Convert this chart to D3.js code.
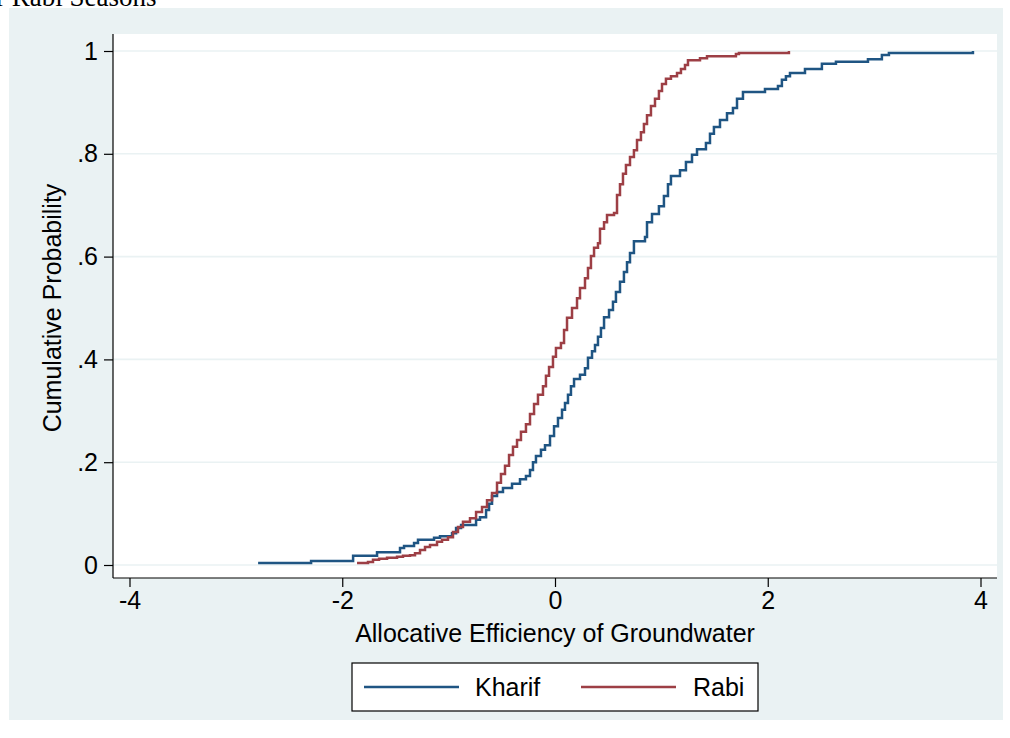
<!DOCTYPE html>
<html>
<head>
<meta charset="utf-8">
<script src="https://cdn.jsdelivr.net/npm/d3@7"></script>
<style>
  html, body { margin: 0; padding: 0; background: #ffffff; }
  svg { display: block; }
  text { font-family: "Liberation Sans", Arial, Helvetica, sans-serif; fill: #000; }
</style>
</head>
<body>
<svg id="chart" width="1010" height="738"></svg>
<script>
// Empirical CDF knots: allocative efficiency of groundwater and cumulative probability
const kharifX = [-2.791, -2.293, -1.898, -1.673, -1.457, -1.419, -1.325, -1.288, -1.137, -1.081,
  -0.968, -0.930, -0.883, -0.742, -0.705, -0.648, -0.620, -0.592, -0.545, -0.489,
  -0.404, -0.329, -0.273, -0.235, -0.207, -0.179, -0.132, -0.094, -0.047, -0.009,
  0.028, 0.066, 0.094, 0.122, 0.150, 0.179, 0.235, 0.282, 0.310, 0.348,
  0.376, 0.404, 0.432, 0.461, 0.508, 0.545, 0.573, 0.611, 0.648, 0.677,
  0.705, 0.742, 0.846, 0.865, 0.912, 0.977, 1.024, 1.062, 1.090, 1.175,
  1.231, 1.288, 1.335, 1.419, 1.457, 1.494, 1.551, 1.617, 1.673, 1.711,
  1.767, 1.974, 2.096, 2.133, 2.171, 2.209, 2.350, 2.509, 2.641, 2.942,
  3.073, 3.139, 3.929];
const kharifP = [0.004, 0.008, 0.018, 0.025, 0.033, 0.037, 0.043, 0.049, 0.053, 0.056,
  0.062, 0.072, 0.078, 0.088, 0.093, 0.107, 0.119, 0.134, 0.142, 0.150,
  0.158, 0.167, 0.173, 0.185, 0.200, 0.212, 0.224, 0.233, 0.251, 0.270,
  0.286, 0.302, 0.315, 0.331, 0.348, 0.362, 0.370, 0.383, 0.403, 0.416,
  0.428, 0.444, 0.461, 0.482, 0.496, 0.512, 0.531, 0.551, 0.570, 0.589,
  0.607, 0.630, 0.638, 0.667, 0.683, 0.698, 0.718, 0.741, 0.757, 0.768,
  0.784, 0.798, 0.809, 0.821, 0.839, 0.852, 0.866, 0.879, 0.889, 0.907,
  0.920, 0.926, 0.932, 0.944, 0.951, 0.957, 0.965, 0.975, 0.979, 0.984,
  0.992, 0.996, 1.000];

const rabiX = [-1.861, -1.758, -1.711, -1.654, -1.579, -1.485, -1.429, -1.363, -1.316, -1.269,
  -1.222, -1.175, -1.109, -1.062, -1.006, -0.959, -0.912, -0.865, -0.799, -0.742,
  -0.686, -0.639, -0.592, -0.545, -0.508, -0.470, -0.432, -0.395, -0.357, -0.320,
  -0.273, -0.235, -0.197, -0.160, -0.113, -0.085, -0.056, -0.019, 0.009, 0.056,
  0.085, 0.113, 0.160, 0.207, 0.235, 0.282, 0.310, 0.338, 0.367, 0.404,
  0.423, 0.461, 0.489, 0.555, 0.583, 0.611, 0.639, 0.667, 0.705, 0.742,
  0.771, 0.808, 0.836, 0.865, 0.902, 0.940, 0.977, 1.006, 1.043, 1.090,
  1.147, 1.184, 1.222, 1.250, 1.363, 1.429, 1.701, 1.729, 2.199];
const rabiP = [0.004, 0.006, 0.010, 0.012, 0.014, 0.016, 0.018, 0.019, 0.023, 0.029,
  0.035, 0.039, 0.045, 0.049, 0.054, 0.064, 0.074, 0.084, 0.091, 0.103,
  0.113, 0.126, 0.140, 0.160, 0.177, 0.193, 0.214, 0.230, 0.243, 0.259,
  0.274, 0.294, 0.313, 0.331, 0.348, 0.368, 0.385, 0.405, 0.422, 0.432,
  0.457, 0.481, 0.500, 0.519, 0.539, 0.558, 0.578, 0.601, 0.617, 0.626,
  0.654, 0.667, 0.681, 0.685, 0.720, 0.741, 0.761, 0.778, 0.794, 0.807,
  0.827, 0.842, 0.858, 0.875, 0.893, 0.907, 0.922, 0.936, 0.946, 0.951,
  0.957, 0.965, 0.973, 0.982, 0.986, 0.990, 0.994, 0.996, 1.000];

const seriesNames = ["Kharif", "Rabi"];
const seriesColors = ["#1f5583", "#9d3f45"];
const xTicks = [-4, -2, 0, 2, 4];
const yTicks = [0, 0.2, 0.4, 0.6, 0.8, 1];
const yTickLabels = ["0", ".2", ".4", ".6", ".8", "1"];
const xTitle = "Allocative Efficiency of Groundwater";
const yTitle = "Cumulative Probability";
const captionTail = "r Rabi Seasons";

const svg = d3.select("#chart");

// graph region and plot region
const region = { x: 9, y: 8, w: 994, h: 712 };
const plot = { left: 113, top: 34, right: 997, bottom: 578 };

const x = d3.scaleLinear().domain([-4, 4]).range([129.5, 980.5]);
const y = d3.scaleLinear().domain([0, 1]).range([565, 51]);

const fontSize = 25;

// caption line that runs off the top of the frame
svg.append("text")
  .attr("x", -4).attr("y", 6)
  .style("font-family", "'Liberation Serif', 'Times New Roman', serif")
  .style("font-size", "27px")
  .text(captionTail);

svg.append("rect")
  .attr("x", region.x).attr("y", region.y)
  .attr("width", region.w).attr("height", region.h)
  .attr("fill", "#eaf2f3");

svg.append("rect")
  .attr("x", plot.left).attr("y", plot.top)
  .attr("width", plot.right - plot.left).attr("height", plot.bottom - plot.top)
  .attr("fill", "#ffffff");

// horizontal grid lines
svg.append("g")
  .selectAll("line")
  .data(yTicks)
  .join("line")
  .attr("x1", plot.left).attr("x2", plot.right)
  .attr("y1", d => y(d)).attr("y2", d => y(d))
  .attr("stroke", "#eaf2f3")
  .attr("stroke-width", 1.6);

// y axis
const yAxis = d3.axisLeft(y)
  .tickValues(yTicks)
  .tickFormat((d, i) => yTickLabels[i])
  .tickSize(9)
  .tickPadding(6);
const gy = svg.append("g")
  .attr("transform", `translate(${plot.left},0)`)
  .call(yAxis);
gy.select(".domain").remove();
gy.append("line")
  .attr("x1", 0).attr("x2", 0)
  .attr("y1", plot.top).attr("y2", plot.bottom)
  .attr("stroke", "#000").attr("stroke-width", 1.2);
gy.selectAll(".tick line").attr("stroke", "#000").attr("stroke-width", 1.2);
gy.selectAll(".tick text")
  .style("font-size", fontSize + "px")
  .style("font-family", "'Liberation Sans', Arial, sans-serif")
  .attr("fill", "#000");

// x axis
const xAxis = d3.axisBottom(x)
  .tickValues(xTicks)
  .tickFormat(d3.format("d"))
  .tickSize(9)
  .tickPadding(4);
const gx = svg.append("g")
  .attr("transform", `translate(0,${plot.bottom})`)
  .call(xAxis);
gx.select(".domain").remove();
gx.append("line")
  .attr("x1", plot.left).attr("x2", plot.right)
  .attr("y1", 0).attr("y2", 0)
  .attr("stroke", "#000").attr("stroke-width", 1.2);
gx.selectAll(".tick line").attr("stroke", "#000").attr("stroke-width", 1.2);
gx.selectAll(".tick text")
  .style("font-size", fontSize + "px")
  .style("font-family", "'Liberation Sans', Arial, sans-serif")
  .attr("fill", "#000")
  .text(d => d < 0 ? "-" + Math.abs(d) : String(d));

// axis titles
svg.append("text")
  .attr("x", (x(-4) + x(4)) / 2).attr("y", 642)
  .attr("text-anchor", "middle")
  .style("font-size", fontSize + "px")
  .text(xTitle);

svg.append("text")
  .attr("transform", `translate(61,${(y(0) + y(1)) / 2}) rotate(-90)`)
  .attr("text-anchor", "middle")
  .style("font-size", fontSize + "px")
  .text(yTitle);

// step lines
const series = [
  kharifX.map((v, i) => ({ x: v, p: kharifP[i] })),
  rabiX.map((v, i) => ({ x: v, p: rabiP[i] }))
];
const line = d3.line()
  .x(d => x(d.x))
  .y(d => y(d.p))
  .curve(d3.curveStepAfter);

svg.append("g")
  .selectAll("path")
  .data(series)
  .join("path")
  .attr("d", line)
  .attr("fill", "none")
  .attr("stroke", (d, i) => seriesColors[i])
  .attr("stroke-width", 2.5)
  .attr("stroke-linejoin", "miter");

// legend
const legend = svg.append("g");
legend.append("rect")
  .attr("x", 352).attr("y", 663)
  .attr("width", 406).attr("height", 48)
  .attr("fill", "#ffffff")
  .attr("stroke", "#000").attr("stroke-width", 1.2);

const legendItems = [
  { lx: 364, tx: 475 },
  { lx: 581, tx: 693 }
];
legendItems.forEach((it, i) => {
  legend.append("line")
    .attr("x1", it.lx).attr("x2", it.lx + 95)
    .attr("y1", 687).attr("y2", 687)
    .attr("stroke", seriesColors[i]).attr("stroke-width", 2.5);
  legend.append("text")
    .attr("x", it.tx).attr("y", 696)
    .style("font-size", fontSize + "px")
    .text(seriesNames[i]);
});
</script>
</body>
</html>
